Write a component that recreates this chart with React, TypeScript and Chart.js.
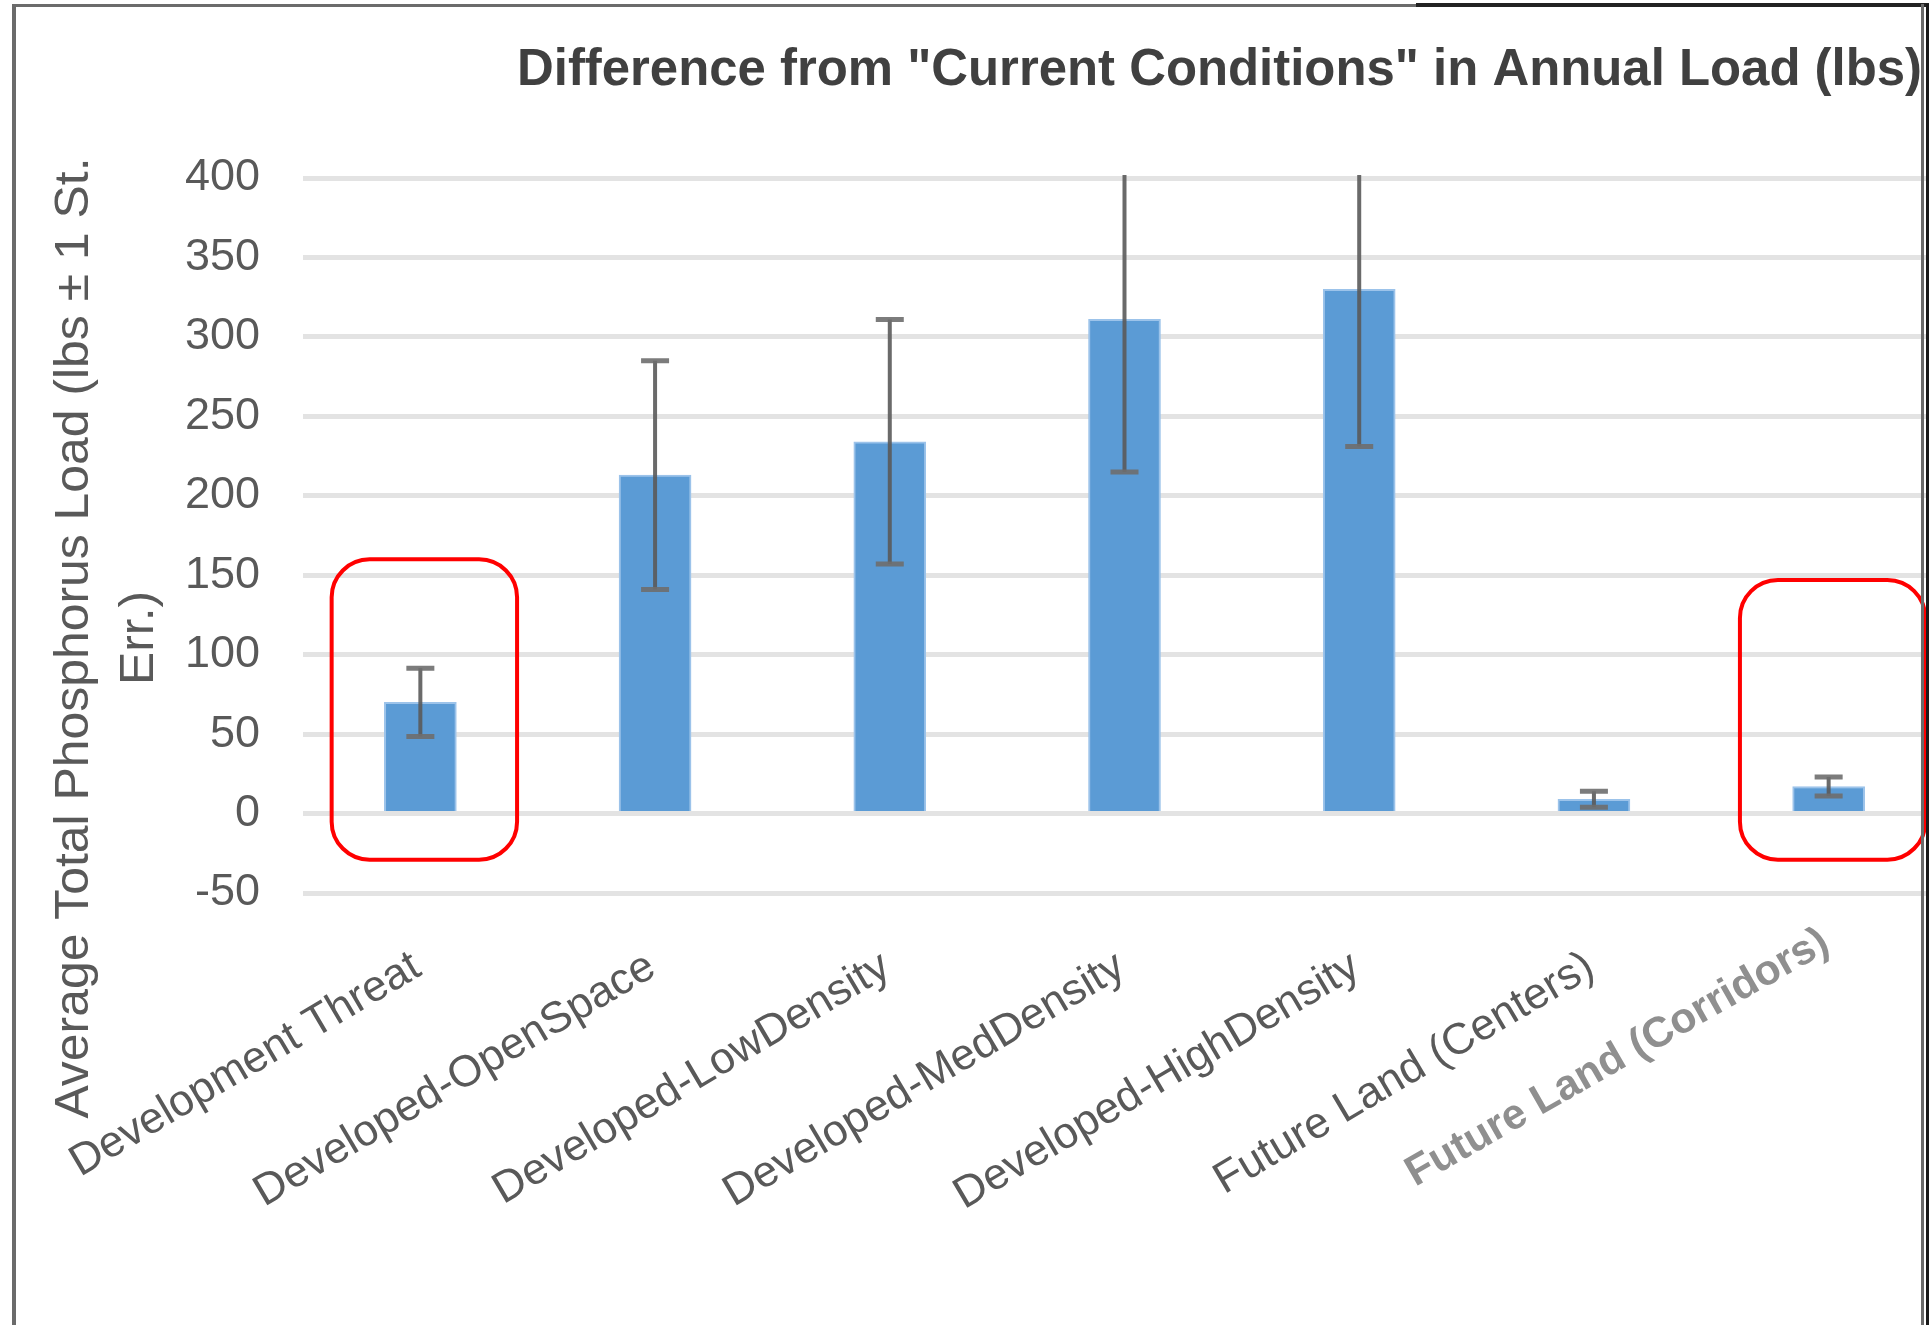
import React, { useEffect, useRef } from 'react';
import { Chart, registerables } from 'chart.js';

Chart.register(...registerables);

// ---------- data ----------
const categories = [
  'Development Threat',
  'Developed-OpenSpace',
  'Developed-LowDensity',
  'Developed-MedDensity',
  'Developed-HighDensity',
  'Future Land (Centers)',
  'Future Land (Corridors)',
];
const meanLoad = [70, 213, 234, 311, 330, 9, 17];
const stdErr = [21.5, 72, 77, 96, 99, 5, 6];

const yMin = -50;
const yMax = 400;
const yStep = 50;

// highlighted (red rounded boxes) categories and their value extents
const highlightIndex = [0, 6];
const highlightTop = [160, 147];
const highlightBottom = [-29, -29];

const chartTitle = 'Difference from "Current Conditions" in Annual Load (lbs)';
const yTitleLines = ['Average Total Phosphorus Load (lbs \u00b1 1 St.', 'Err.)'];

const FONT = '"Liberation Sans", Arial, "DejaVu Sans", sans-serif';

const errorBarPlugin = {
  id: 'errorBars',
  afterDatasetsDraw(chart: any) {
    const ctx = chart.ctx;
    const y = chart.scales.y;
    const meta = chart.getDatasetMeta(0);
    const area = chart.chartArea;
    ctx.save();
    ctx.beginPath();
    ctx.rect(area.left, area.top - 3, area.right - area.left, area.bottom - area.top + 3);
    ctx.clip();
    meta.data.forEach((bar: any, i: number) => {
      const x = bar.x;
      const yTop = y.getPixelForValue(meanLoad[i] + stdErr[i]);
      const yBot = y.getPixelForValue(meanLoad[i] - stdErr[i]);
      ctx.strokeStyle = 'rgba(90,90,90,0.9)';
      ctx.lineWidth = 4;
      ctx.beginPath();
      ctx.moveTo(x, yTop);
      ctx.lineTo(x, yBot);
      ctx.stroke();
      ctx.lineWidth = 5;
      ctx.strokeStyle = 'rgba(110,110,110,0.9)';
      ctx.beginPath();
      ctx.moveTo(x - 14, yTop);
      ctx.lineTo(x + 14, yTop);
      ctx.moveTo(x - 14, yBot);
      ctx.lineTo(x + 14, yBot);
      ctx.stroke();
    });
    ctx.restore();
  },
};

const decorPlugin = {
  id: 'decor',
  afterDraw(chart: any) {
    const ctx = chart.ctx;
    const xs = chart.scales.x;
    const ys = chart.scales.y;

    // title
    ctx.save();
    ctx.font = `bold 52px ${FONT}`;
    ctx.fillStyle = '#404040';
    ctx.textBaseline = 'alphabetic';
    ctx.textAlign = 'left';
    const tw = ctx.measureText(chartTitle).width;
    ctx.translate(517, 85);
    ctx.scale(1405 / tw, 1);
    ctx.fillText(chartTitle, 0, 0);
    ctx.restore();

    // y axis title (two lines)
    ctx.save();
    ctx.font = `48px ${FONT}`;
    ctx.fillStyle = '#595959';
    ctx.textAlign = 'center';
    ctx.textBaseline = 'alphabetic';
    const lw = ctx.measureText(yTitleLines[0]).width;
    const s = 961 / lw;
    const baseX = [88, 153];
    yTitleLines.forEach((line, i) => {
      ctx.save();
      ctx.translate(baseX[i], 638);
      ctx.rotate(-Math.PI / 2);
      ctx.scale(s, 1);
      ctx.fillText(line, 0, 0);
      ctx.restore();
    });
    ctx.restore();

    // rotated category labels, anchored at their right end
    categories.forEach((label, i) => {
      const special = i === 6;
      const angle = ((special ? 29.7 : 30.6) * Math.PI) / 180;
      const size = special ? 42.5 : 44;
      const capH = size * 0.716;
      const bx = xs.getPixelForValue(i) + 3;
      const topY = special ? 923 : 947;
      const by = topY + capH * Math.cos(angle);
      ctx.save();
      ctx.font = special ? `bold ${size}px ${FONT}` : `${size}px ${FONT}`;
      ctx.fillStyle = special ? '#8f8f8f' : '#595959';
      ctx.textAlign = 'right';
      ctx.textBaseline = 'alphabetic';
      ctx.translate(bx, by);
      ctx.rotate(-angle);
      ctx.fillText(label, 0, 0);
      ctx.restore();
    });

    // red highlight boxes
    const cw = xs.getPixelForValue(1) - xs.getPixelForValue(0);
    ctx.save();
    ctx.strokeStyle = '#ff0000';
    ctx.lineWidth = 4;
    highlightIndex.forEach((idx, k) => {
      const cx = xs.getPixelForValue(idx) + 4;
      const left = cx - cw * 0.395;
      const right = cx + cw * 0.395;
      const top = ys.getPixelForValue(highlightTop[k]);
      const bottom = ys.getPixelForValue(highlightBottom[k]);
      ctx.beginPath();
      ctx.roundRect(left, top, right - left, bottom - top, 38);
      ctx.stroke();
    });
    ctx.restore();
  },
};

export default function App() {
  const ref = useRef<HTMLCanvasElement | null>(null);

  useEffect(() => {
    if (!ref.current) return;
    const chart = new Chart(ref.current, {
      type: 'bar',
      data: {
        labels: categories,
        datasets: [
          {
            data: meanLoad,
            backgroundColor: '#5b9bd5',
            borderColor: '#9cc3ea',
            borderWidth: 2,
            barThickness: 72,
          },
        ],
      },
      options: {
        animation: false,
        responsive: false,
        devicePixelRatio: 1,
        layout: { padding: { top: 178, right: 10, left: 0, bottom: 0 } },
        plugins: {
          legend: { display: false },
          title: { display: false },
          tooltip: { enabled: false },
        },
        scales: {
          x: {
            grid: { display: false, drawTicks: false },
            border: { display: false },
            ticks: { display: false },
            afterFit: (scale: any) => {
              scale.height = 432;
            },
          },
          y: {
            min: yMin,
            max: yMax,
            ticks: {
              stepSize: yStep,
              padding: 43,
              font: { family: FONT, size: 45 },
              color: '#595959',
            },
            grid: { color: '#e3e3e3', lineWidth: 5, drawTicks: false },
            border: { display: false },
            afterFit: (scale: any) => {
              scale.width = 303;
            },
          },
        },
      },
      plugins: [errorBarPlugin, decorPlugin],
    });
    return () => chart.destroy();
  }, []);

  return (
    <div
      style={{
        position: 'fixed',
        left: 0,
        top: 0,
        width: 1929,
        height: 1325,
        overflow: 'hidden',
        background: '#ffffff',
      }}
    >
      <canvas
        ref={ref}
        width={1956}
        height={1325}
        style={{ position: 'absolute', left: 0, top: 0, width: 1956, height: 1325 }}
      />
      <div style={{ position: 'absolute', left: 12, top: 4, width: 4, height: 1321, background: '#6b6b6b' }} />
      <div style={{ position: 'absolute', left: 12, top: 4, width: 1404, height: 3, background: '#6b6b6b' }} />
      <div style={{ position: 'absolute', left: 1416, top: 3, width: 513, height: 4, background: '#222222' }} />
      <div style={{ position: 'absolute', left: 1921, top: 4, width: 3, height: 1321, background: '#6b6b6b' }} />
      <div style={{ position: 'absolute', left: 1926, top: 4, width: 3, height: 1321, background: '#1a1a1a' }} />
    </div>
  );
}
